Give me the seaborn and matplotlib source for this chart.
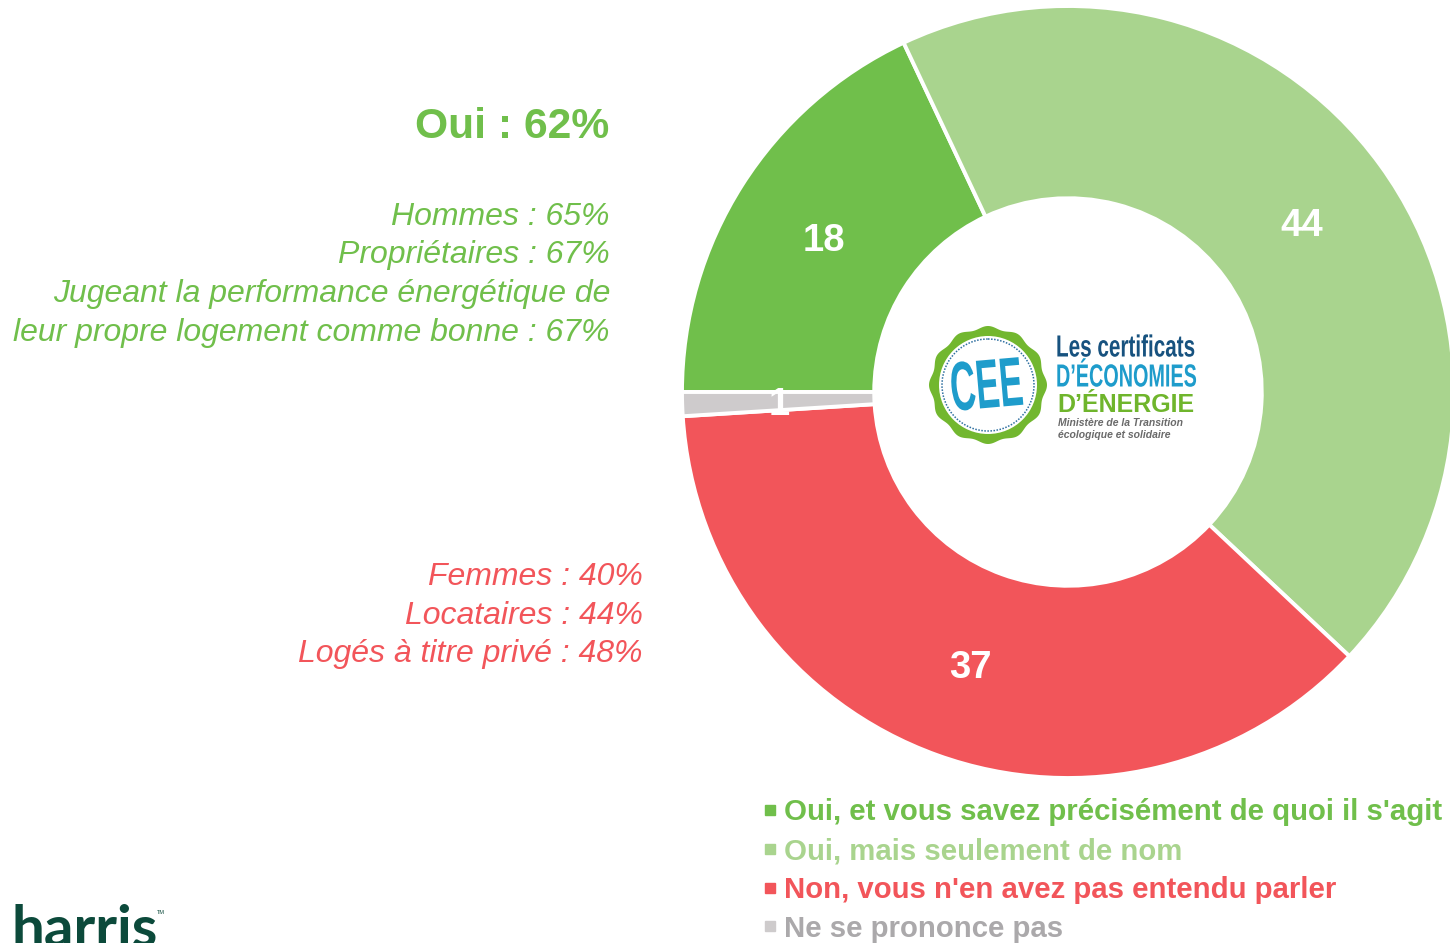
import numpy as np
import matplotlib
matplotlib.use("Agg")
import matplotlib.pyplot as plt
from matplotlib.lines import Line2D
from matplotlib.patches import Circle, Polygon
from matplotlib.patheffects import AbstractPathEffect
from matplotlib.transforms import Affine2D
import seaborn as sns

categories = ["Oui, et vous savez précisément de quoi il s'agit",
              "Oui, mais seulement de nom",
              "Non, vous n'en avez pas entendu parler",
              "Ne se prononce pas"]
values = [18, 44, 37, 1]
colors = ["#70BF4B", "#A9D48E", "#F2555A", "#CECBCC"]
legend_text_colors = ["#70BF4B", "#A9D48E", "#F2555A", "#ABA9AB"]

oui_title = "Oui : 62%"
oui_lines = ["Hommes : 65%", "Propriétaires : 67%",
             "Jugeant la performance énergétique de",
             "leur propre logement comme bonne : 67%"]
non_lines = ["Femmes : 40%", "Locataires : 44%", "Logés à titre privé : 48%"]


class Squeeze(AbstractPathEffect):
    """Draw a text narrower, there is no condensed font installed."""
    def __init__(self, sx):
        super().__init__()
        self.sx = sx

    def draw_path(self, renderer, gc, tpath, affine, rgbFace=None):
        renderer.draw_path(gc, tpath, Affine2D().scale(self.sx, 1) + affine, rgbFace)


sns.set_theme(style="white")
plt.rcParams["font.family"] = ["Liberation Sans", "DejaVu Sans"]

W, H = 1450, 943
fig = plt.figure(figsize=(W / 100, H / 100), dpi=100, facecolor="white")

# donut
ax = fig.add_axes([682 / W, 1 - 778 / H, 772 / W, 772 / H])
wedges, texts = ax.pie(values, labels=values, colors=colors, startangle=180,
                       counterclock=False, radius=1, labeldistance=0.748,
                       wedgeprops=dict(width=0.498, edgecolor="white", linewidth=2.8),
                       textprops=dict(color="white", fontsize=27.5, fontweight="bold",
                                      ha="center", va="center_baseline"))
ax.set_xlim(-1, 1)
ax.set_ylim(-1, 1)

# overlay in pixel coordinates for the annotations
ov = fig.add_axes([0, 0, 1, 1], facecolor="none")
ov.set_xlim(0, W)
ov.set_ylim(H, 0)
ov.axis("off")

ov.text(609.5, 123, oui_title, ha="right", va="center_baseline", color=colors[0],
        fontsize=30.7, fontweight="bold")
for i, line in enumerate(oui_lines):
    ov.text(610, 213.5 + i * 38.5, line, ha="right", va="center_baseline", color=colors[0],
            fontsize=23.03, fontstyle="italic")
for i, line in enumerate(non_lines):
    ov.text(643, 573.5 + i * 38.5, line, ha="right", va="center_baseline", color=colors[2],
            fontsize=23.03, fontstyle="italic")

# legend
handles = [Line2D([], [], linestyle="", marker="s", markersize=7.5, color=c) for c in colors]
leg = ov.legend(handles, categories, loc="upper left", bbox_to_anchor=(755 / W, 1 - 798.5 / H),
                frameon=False, prop=dict(size=21.15, weight="bold"), handletextpad=0.0,
                handlelength=1.0, labelspacing=0.365, borderpad=0, borderaxespad=0)
for t, c in zip(leg.get_texts(), legend_text_colors):
    t.set_color(c)

# CEE logo
theta = np.linspace(0, 2 * np.pi, 400)
seal_r = 57.5 + 1.5 * np.cos(12 * theta)
ov.add_patch(Polygon(np.column_stack([988 + seal_r * np.cos(theta), 385 + seal_r * np.sin(theta)]),
                     closed=True, facecolor="#72B72F", edgecolor="none"))
ov.add_patch(Circle((988, 385), 49, facecolor="white", edgecolor="none"))
ov.add_patch(Circle((988, 385), 46, facecolor="none", edgecolor="#2E6FA0", linewidth=1.1,
                    linestyle=(0, (1, 1))))
ov.text(950, 386, "CEE", ha="left", va="center_baseline", color="#1E9CCB", fontsize=50,
        fontweight="bold", rotation=5, rotation_mode="anchor", path_effects=[Squeeze(0.51)])
ov.text(1056, 345, "Les certificats", ha="left", va="center_baseline", color="#17527F", fontsize=22,
        fontweight="bold", path_effects=[Squeeze(0.677)])
ov.text(1056, 375, "D’ÉCONOMIES", ha="left", va="center_baseline", color="#1E9CCB", fontsize=23,
        fontweight="bold", path_effects=[Squeeze(0.62)])
ov.text(1057, 403, "D’ÉNERGIE", ha="left", va="center_baseline", color="#6FB52C", fontsize=18,
        fontweight="bold")
ov.text(1058, 422, "Ministère de la Transition", ha="left", va="center_baseline", color="#6A6A6A",
        fontsize=7.5, fontstyle="italic", fontweight="bold")
ov.text(1058, 434, "écologique et solidaire", ha="left", va="center_baseline", color="#6A6A6A",
        fontsize=7.5, fontstyle="italic", fontweight="bold")

# harris logo, cut by the bottom edge of the picture
ov.text(12, 947, "harris", ha="left", va="baseline", color="#0C4A3B", fontsize=42,
        fontweight="bold", family=["Lato", "DejaVu Sans"])
ov.text(157, 913, "TM", ha="left", va="center", color="#0C4A3B", fontsize=4)

fig.savefig("out.png", dpi=100)
